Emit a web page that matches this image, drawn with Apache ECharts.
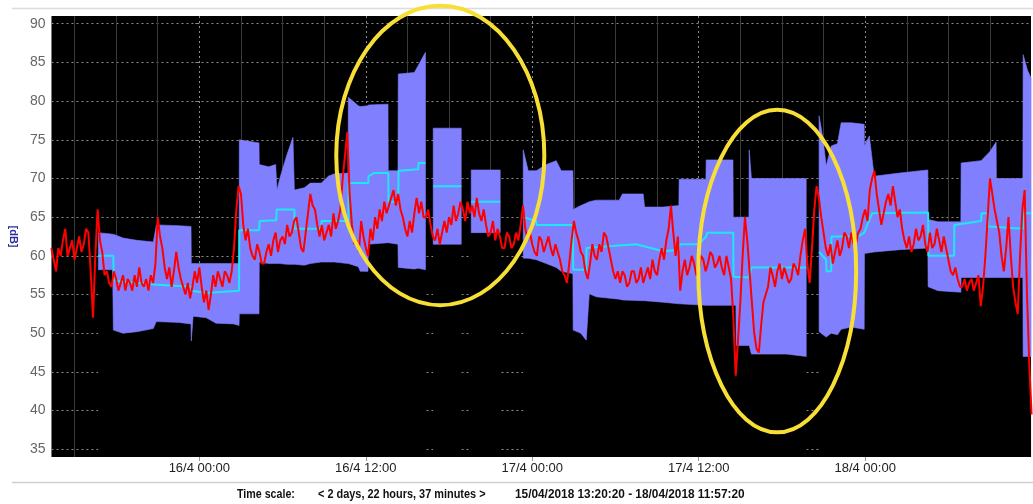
<!DOCTYPE html>
<html><head><meta charset="utf-8">
<script src="https://cdn.jsdelivr.net/npm/echarts@6/dist/echarts.min.js"></script>
<style>html,body{margin:0;padding:0;background:#fff}#c{width:1033px;height:504px}</style>
</head><body><div id="c"></div>
<script>
// time in hours relative to 16/04/2018 00:00
const T_MIN = -10.661, T_MAX = 59.956;
const xLabelHours = [0, 12, 24, 36, 48];
const xMinorHours = [-9,-6,-3,3,6,9,15,18,21,27,30,33,39,42,45,51,54,57];
const yTicks = [35,40,45,50,55,60,65,70,75,80,85,90];

// measured level (red), one value every 10 minutes from 15/04 13:20
const redStart = -10.667, redStep = 1/6;
const redValues = [
61,59.5,58,61,60,62,63.5,60,61,62,59.5,61,62.5,60.5,61.5,63.5,63,58,52,60,
66,62,60.5,57.5,58,56.5,56,58,57,55.5,56.5,57.5,55.5,57,56.5,55.5,57.5,56,58.5,56.5,
56,57,55.5,57.5,56.5,59,65,62.5,61,58.5,57,58.5,56,58,60.5,58.5,57,56,55,56.5,
54.5,56,58,56.5,58.5,56,54,55.5,53,55,57.5,56,58,57,56,58,57.5,56.5,58,61,
66,69,68,64,62,63.5,61,60,59.5,61.5,60.5,59,59,60.5,61.5,60,62,63,60.5,62,
62.5,61.5,64,62.5,63,64.5,65,63,61,60.5,63,65.5,68,66.5,66,64,62.5,64,62,63,
64,62.5,65.5,63.5,64.5,66,70,73,76,68,64,61.5,62,60.5,64.5,62.5,61,60,63.5,62,
65,63.5,66,64.5,67,65.5,66.5,67.5,68.5,66.5,68,66,65,63.5,62.5,64.5,63,65.5,67.5,65.5,
67,65,65,66,64,62.5,62,63.5,61.5,63,64.5,63,65,64,66.5,64.5,65.5,67,66,64.5,
67,65.5,66.5,65,67.5,65.5,64.5,66,64,62.5,63,64.5,62,63.5,62.5,61,61,63,62.5,61,
61.5,63,62,64,66.5,63.5,62,63,61.5,60.5,60,62.5,62,60.5,61.5,62.5,61,60,61.5,60.5,
59.5,58,57.5,56.5,59,62,64.5,63,62,60.5,60,58,57,59,61.5,60,59.5,61.5,60.5,63,
62.5,61,59.5,58,57,58,56.5,58,57.5,56,56.5,58,58,56.5,57,58.5,56.5,57.5,58.5,57,
59.5,58,57.5,59.5,61,59.5,62,63.5,66.5,63,60,62.5,55.5,58,59.5,57.5,58.5,60,59,57.5,
58,60,59.5,58,59,60.5,60,58.5,59,60,58.5,57.5,60,58.5,57,52,44.5,49,54,60,
65,62,58,54,50,48,47.5,51,54,55,56,58.5,57.5,56,58,59,57,58.5,57.5,56.5,
57,59,58.5,57.5,60,62,63.5,59,56.5,61,66,69,67.5,65,63,61,60,61.5,59,60.5,
62,60,61,63,62.5,61,63,61.5,61.5,63,63.5,65,66,64.5,68.5,70,71,68,66,64,
65.5,67,68,66.5,69,67,65,66,63.5,62,61,62.5,60.5,61.5,63.5,62,62.5,64,61.5,60.5,
63,61,61.5,63.5,62,60.5,62.5,61,59.5,58,57.5,58.5,57,56,56,57,55.5,56.5,57,55.5,
56.5,57.5,53.5,56,60,65,70,68,66,64.5,63,60,58,61,65,60,56,54,52.5,60,
66,68.5,55,46,39.5
];

// min / max envelope (blue band); null = no band
const bandHours = [
-7.28,-6.25,-6.20,-5.5,-4.5,-3.32,-3.10,-1.5,-0.60,-0.58,-0.45,0.5,1.2,2.5,2.86,2.88,4.30,4.32,5.0,5.5,5.6,5.8,6.3,6.75,6.85,7.57,8.0,8.79,9.3,9.73,10.72,10.74,11.46,11.6,12.16,12.18,13.60,13.62,14.32,14.34,15.5,15.78,16.30,16.6,
16.86,18.88,19.2,
19.60,21.69,22.5,
23.35,23.71,24.29,25.01,25.73,26.09,26.93,26.95,27.5,27.89,28.11,28.61,30.27,30.5,32.0,32.1,33.44,34.57,34.59,36.52,36.54,38.47,38.49,38.68,38.70,39.62,39.64,39.80,42.31,43.75,44.2,
44.68,44.97,45.19,45.55,46.0,46.27,47.0,47.93,47.95,48.3,48.65,50.5,52.52,52.54,53.26,54.90,54.92,56.36,57.0,57.44,57.46,59.37,59.39,59.70,59.96
];
const bandLow = [
58.2,58.2,50.4,50.0,50.2,50.6,51.5,51.4,51.2,49.0,52.2,52.0,51.3,51.2,51.0,52.5,52.5,59.2,59.0,59.0,59.0,59.0,58.9,58.9,58.9,58.8,59.0,59.2,59.2,59.2,59.0,59.0,58.6,58.0,58.0,61.5,61.7,61.7,61.5,58.5,58.3,58.4,58.2,null,
61.5,61.5,null,
63.0,63.0,null,
59.7,59.7,59.5,59.0,58.5,58.0,57.7,50.4,50.0,49.1,55.1,54.7,54.4,54.3,54.2,54.2,54.0,53.8,53.8,53.6,53.6,53.6,53.6,53.6,48.4,48.4,48.4,47.3,47.3,47.0,null,
50.2,49.8,49.5,50.0,49.8,50.5,50.8,50.5,60.3,60.4,60.5,60.8,61.0,56.0,55.5,55.3,57.2,57.2,57.2,57.2,57.2,57.2,47.0,47.0,47.0
];
const bandHigh = [
63,62.8,62.8,62.3,62.0,61.8,64.0,63.9,63.8,59.0,59.0,59.0,59.0,59.0,59.0,75.0,74.6,71.8,71.5,71.8,68.5,70.0,73.0,75.3,68.5,68.8,69.4,69.4,70.3,70.6,70.7,80.5,79.4,79.3,79.4,79.5,79.6,71.0,71.0,83.5,83.7,84.6,86.3,null,
76.5,76.5,null,
71.1,71.1,null,
73.7,71.0,71.0,71.8,72.3,71.0,71.0,66.0,66.5,66.8,67.0,67.2,67.2,68.0,68.0,66.3,66.3,66.5,69.9,69.9,72.4,72.4,65.0,65.0,65.0,65.0,73.7,70.0,70.0,70.0,null,
78.1,75.0,71.6,74.2,74.5,77.2,77.2,77.0,74.2,75.5,70.3,70.7,71.1,64.7,64.4,64.4,72.0,72.3,73.5,74.7,70.0,70.0,86.0,84.0,83.0
];

// median (cyan)
const medianHours = [
-7.28,-6.20,-6.18,-3.32,-0.58,-0.56,0.5,2.86,2.88,4.32,4.34,5.55,5.57,6.85,6.87,8.79,8.81,10.74,10.76,12.18,12.2,12.6,13.62,13.64,14.34,14.36,15.78,15.8,16.3,16.6,
16.86,18.88,19.2,19.60,21.69,22.5,
23.35,24.29,24.31,26.93,26.95,27.89,27.91,30.0,31.5,33.44,34.59,34.61,36.0,36.54,36.6,38.49,38.51,39.64,39.8,43.75,44.2,
44.68,45.19,45.21,45.55,45.57,47.5,47.93,48.5,52.54,52.56,54.41,54.43,56.36,56.38,56.86,56.88,57.80,59.39,59.41,59.96
];
const medianValues = [
60,60,56.8,56.3,56.0,55.5,55.2,55.5,63.3,63.3,64.5,64.6,66,66,63.5,63.5,64.5,64.5,69.4,69.4,70.3,70.7,70.7,67,67,71,71.2,72,72,null,
69,69,null,67,67,null,
65,64.5,64,64,58.2,58.2,61,61.3,61.5,60.6,60.8,61.5,61.5,62.5,63,63,57.3,57.2,58.5,58.5,null,
60.5,59.5,58,58,62.5,62.5,63,65.5,65.6,60,60,64,64.5,65.5,65.5,63.8,63.7,63.5,65.5,65.5
];

// highlighted regions: [centre hour, centre value, half-width hours, half-height value]
const ellipses = [[17.37, 72.98, 7.50, 19.35], [41.66, 58.03, 5.69, 20.84]];

const SANS = "'Liberation Sans Narrow','Arial Narrow','Liberation Sans',Arial,sans-serif";

function fmtHour(h) {
  const d = 16 + Math.floor(h / 24);
  const hh = ((h % 24) + 24) % 24;
  return d + '/4 ' + String(hh).padStart(2, '0') + ':00';
}
const pair = (xs, ys) => xs.map((x, i) => [x, ys[i] === null ? '-' : ys[i]]);

// contiguous runs of the band (split where the band is absent)
const bandSegments = [];
(function () {
  let s = -1;
  for (let i = 0; i < bandHours.length; i++) {
    if (bandLow[i] === null) { if (s >= 0) { bandSegments.push([s, i - 1]); s = -1; } }
    else if (s < 0) s = i;
  }
  if (s >= 0) bandSegments.push([s, bandHours.length - 1]);
})();

const chart = echarts.init(document.getElementById('c'), null, {renderer: 'canvas'});
chart.setOption({
  animation: false,
  backgroundColor: '#fff',
  grid: {left: 50, right: 2, top: 16, bottom: 47, show: true, backgroundColor: '#000', borderWidth: 0},
  xAxis: [{
    type: 'value', min: T_MIN, max: T_MAX, position: 'bottom',
    axisLine: {show: false},
    axisTick: {show: true, customValues: xLabelHours, length: 4, lineStyle: {color: '#999'}},
    axisLabel: {customValues: xLabelHours, formatter: fmtHour, color: '#222', fontSize: 13, fontFamily: SANS, margin: 5},
    splitLine: {show: true, lineStyle: {color: '#8c8c8c', type: [2, 3], width: 1}}
  }, {
    type: 'value', min: T_MIN, max: T_MAX, position: 'top',
    axisLine: {show: false},
    axisTick: {show: false, customValues: xMinorHours},
    axisLabel: {show: false, customValues: xMinorHours},
    splitLine: {show: true, lineStyle: {color: '#3a3a3a', width: 1}}
  }],
  yAxis: {
    type: 'value', min: 34, max: 91,
    name: '[dB]', nameLocation: 'middle', nameRotate: -90, nameGap: 22,
    nameTextStyle: {color: '#2b2b9a', fontSize: 11, fontWeight: 'bold', fontFamily: SANS},
    axisLine: {show: false},
    axisTick: {show: true, customValues: yTicks, length: 4, lineStyle: {color: '#888'}},
    axisLabel: {customValues: yTicks, color: '#666', fontSize: 14, fontFamily: SANS, margin: 6},
    splitLine: {show: true, lineStyle: {color: '#8c8c8c', type: [2, 3], width: 1}}
  },
  series: [{
    name: 'below-min', type: 'line', xAxisIndex: 0, symbol: 'none', silent: true, z: 2,
    data: pair(bandHours, bandLow),
    lineStyle: {width: 0, color: '#000'},
    areaStyle: {color: '#000', opacity: 1, origin: 'start'}
  }, {
    name: 'band', type: 'custom', xAxisIndex: 0, silent: true, z: 2,
    data: bandSegments.map(s => [bandHours[s[0]], bandLow[s[0]], s[0], s[1]]),
    renderItem: function (params, api) {
      const a = api.value(2), b = api.value(3), pts = [];
      for (let i = a; i <= b; i++) pts.push(api.coord([bandHours[i], bandHigh[i]]));
      for (let i = b; i >= a; i--) pts.push(api.coord([bandHours[i], bandLow[i]]));
      return {type: 'polygon', shape: {points: pts}, style: {fill: '#8080ff', stroke: '#8080ff', lineWidth: 0.6}};
    }
  }, {
    name: 'median', type: 'line', xAxisIndex: 0, symbol: 'none', silent: true, z: 3,
    data: pair(medianHours, medianValues),
    lineStyle: {width: 2, color: '#1ee6f2'}
  }, {
    name: 'level', type: 'line', xAxisIndex: 0, symbol: 'none', silent: true, z: 4,
    data: redValues.map((v, i) => [redStart + i * redStep, v]),
    lineStyle: {width: 2, color: '#ff0000'}
  }, {
    name: 'highlight', type: 'custom', xAxisIndex: 0, clip: false, silent: true, z: 10,
    data: ellipses,
    renderItem: function (params, api) {
      const c = api.coord([api.value(0), api.value(1)]);
      const s = api.size([api.value(2), api.value(3)]);
      return {type: 'ellipse', shape: {cx: c[0], cy: c[1], rx: s[0], ry: s[1]},
              style: {fill: 'transparent', stroke: '#f7df35', lineWidth: 4}};
    }
  }],
  graphic: [
    {type: 'line', silent: true, shape: {x1: 12, y1: 8.5, x2: 1033, y2: 8.5}, style: {stroke: '#dcdcdc', lineWidth: 1.5}},
    {type: 'line', silent: true, shape: {x1: 12, y1: 482.5, x2: 1033, y2: 482.5}, style: {stroke: '#cfcfcf', lineWidth: 1.5}},
    {type: 'text', silent: true, x: 237, y: 494, scaleX: 0.82, style: {text: 'Time scale:', fill: '#111', font: 'bold 13px ' + SANS, verticalAlign: 'middle'}},
    {type: 'text', silent: true, x: 318, y: 494, scaleX: 0.84, style: {text: '< 2 days, 22 hours, 37 minutes >', fill: '#111', font: 'bold 13px ' + SANS, verticalAlign: 'middle'}},
    {type: 'text', silent: true, x: 515, y: 494, scaleX: 0.91, style: {text: '15/04/2018 13:20:20 - 18/04/2018 11:57:20', fill: '#111', font: 'bold 13px ' + SANS, verticalAlign: 'middle'}}
  ]
});
</script>
</body></html>
